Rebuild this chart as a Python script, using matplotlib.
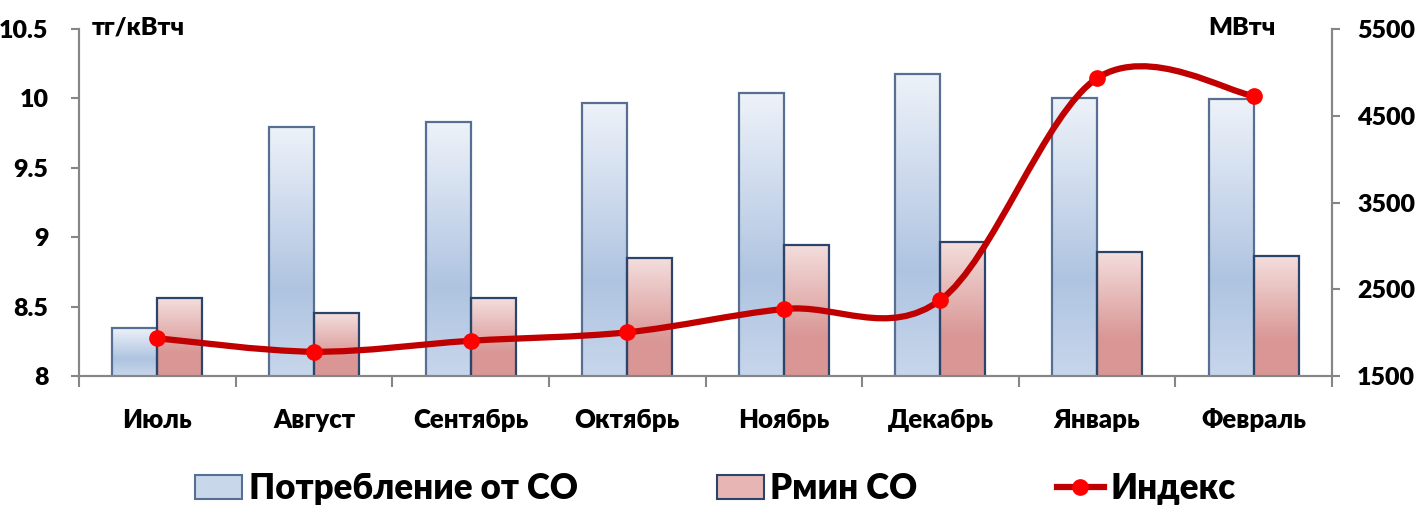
import numpy as np
import matplotlib
matplotlib.use("Agg")
import matplotlib.pyplot as plt
from matplotlib.colors import LinearSegmentedColormap
from matplotlib.patches import Patch, PathPatch
from matplotlib.lines import Line2D
from matplotlib.path import Path
from matplotlib.ticker import FormatStrFormatter

plt.rcParams['font.family'] = ['Lato', 'DejaVu Sans']
plt.rcParams['font.weight'] = 'heavy'

months = ["Июль", "Август", "Сентябрь", "Октябрь", "Ноябрь", "Декабрь", "Январь", "Февраль"]
consumption = [2057, 4374, 4424, 4644, 4759, 4981, 4708, 4690]   # МВтч
pmin = [2396, 2223, 2396, 2857, 3010, 3048, 2933, 2883]          # МВтч
index = [8.272, 8.175, 8.254, 8.315, 8.483, 8.548, 10.145, 10.019]  # тг/кВтч

blue_cmap = LinearSegmentedColormap.from_list(
    "blue", [(0, '#EEF2F9'), (0.65, '#AFC4E1'), (1, '#C7D6EB')])
red_cmap = LinearSegmentedColormap.from_list(
    "red", [(0, '#F3DEDD'), (0.7, '#D99795'), (1, '#D99694')])

fig = plt.figure(figsize=(14.22, 5.13), dpi=100)
ax = fig.add_axes([0.0556, 0.267, 0.8811, 0.6765])
ax2 = ax.twinx()

x = np.arange(len(months))
w = 0.287
gray = '#868686'
wt = 'heavy'


def gradient_bars(xs, vals, cmap, edge):
    bars = ax.bar(xs, vals, w, bottom=0, facecolor='none',
                  edgecolor=edge, linewidth=1.6, zorder=3)
    grad = np.linspace(0, 1, 256).reshape(-1, 1)
    for b in bars:
        x0, y0 = b.get_x(), 1500
        ax.imshow(grad, extent=[x0, x0 + b.get_width(), y0, b.get_height()],
                  aspect='auto', cmap=cmap, origin='upper', zorder=2)
    return bars


gradient_bars(x - w / 2, consumption, blue_cmap, '#566F92')
gradient_bars(x + w / 2, pmin, red_cmap, '#2B4469')

ax.set_xlim(-0.5, len(months) - 0.5)
ax.set_ylim(1500, 5500)
ax2.set_ylim(8, 10.5)

# smoothed line (bezier through the points)
pts = list(zip(x, index))
verts = [pts[0]]
codes = [Path.MOVETO]
n = len(pts)
for i in range(n - 1):
    p0 = np.array(pts[max(i - 1, 0)])
    p1 = np.array(pts[i])
    p2 = np.array(pts[i + 1])
    p3 = np.array(pts[min(i + 2, n - 1)])
    c1 = p1 + (p2 - p0) / 6
    c2 = p2 - (p3 - p1) / 6
    verts += [tuple(c1), tuple(c2), tuple(p2)]
    codes += [Path.CURVE4] * 3
ax2.add_patch(PathPatch(Path(verts, codes), facecolor='none',
                        edgecolor='#C00000', linewidth=4.5, zorder=4,
                        capstyle='round'))
ax2.plot(x, index, linestyle='none', marker='o', markersize=11,
         color='#FF0000', zorder=5)

# swap sides: line axis on the left, bars on the right
ax.yaxis.tick_right()
ax2.yaxis.tick_left()
ax.set_yticks([1500, 2500, 3500, 4500, 5500])
ax2.set_yticks([8, 8.5, 9, 9.5, 10, 10.5])
ax2.yaxis.set_major_formatter(FormatStrFormatter('%g'))

ax.set_xticks(x)
ax.set_xticklabels(months, fontsize=18.5, fontweight=wt)
ax.set_xticks(np.arange(-0.5, len(months)), minor=True)
ax.tick_params(axis='x', which='major', length=0, pad=23)
ax.tick_params(axis='x', which='minor', length=8, width=1.5, color=gray)
ax.tick_params(axis='y', length=6, width=1.5, color=gray, pad=12, labelsize=18)
ax2.tick_params(axis='y', length=6, width=1.5, color=gray, pad=16, labelsize=18)
for lab in ax.get_yticklabels() + ax2.get_yticklabels():
    lab.set_fontweight(wt)

for a in (ax, ax2):
    a.spines['top'].set_visible(False)
    for s in ('left', 'right', 'bottom'):
        a.spines[s].set_color(gray)
        a.spines[s].set_linewidth(1.5)

fig.text(92 / 1422, 1 - 28 / 513, "тг/кВтч", fontsize=18, fontweight=wt,
         ha='left', va='center')
fig.text(1276 / 1422, 1 - 28 / 513, "МВтч", fontsize=18, fontweight=wt,
         ha='right', va='center')

handles = [
    Patch(facecolor='#C9D7EB', edgecolor='#566F92', linewidth=1.5),
    Patch(facecolor='#E6B5B4', edgecolor='#2B4469', linewidth=1.5),
    Line2D([], [], color='#C00000', linewidth=4.5, marker='o',
           markersize=11, markerfacecolor='#FF0000', markeredgecolor='#FF0000'),
]
fig.legend(handles, ["Потребление от СО", "Рмин СО", "Индекс"],
           loc='lower center', bbox_to_anchor=(0.503, -0.045), ncol=3,
           frameon=False, prop={'size': 25, 'weight': wt},
           handlelength=1.35, handleheight=0.7, handletextpad=0.2,
           columnspacing=4.0)

fig.savefig("out.png", dpi=100)
